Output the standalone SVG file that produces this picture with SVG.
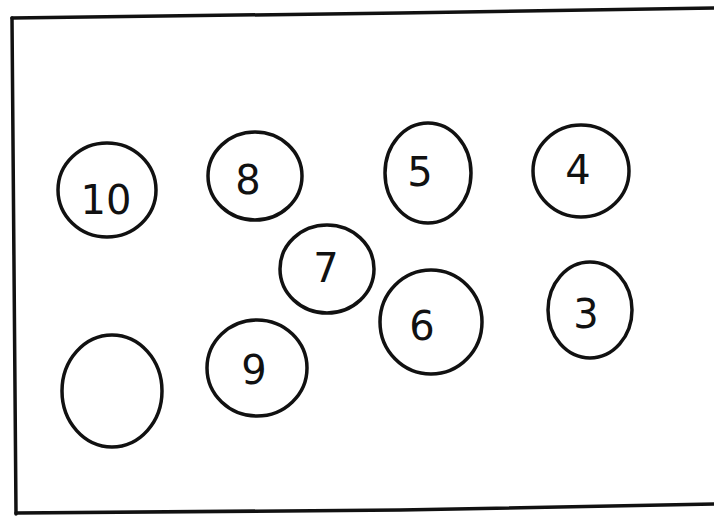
<svg xmlns="http://www.w3.org/2000/svg" width="714" height="518" viewBox="0 0 714 518">
<style>
.n{fill:none;stroke:#111;stroke-width:3.5}
.f{fill:none;stroke:#111;stroke-width:3.5;stroke-linecap:round}
.t{font-family:"DejaVu Sans","Liberation Sans",sans-serif;font-size:40px;fill:#111;text-anchor:middle;dominant-baseline:central}
</style>
<rect width="714" height="518" fill="#fff"/>
<g id="frame">
<path class="f" d="M12 18 L400 13 L714 8"/>
<path class="f" d="M12 18 L16 514"/>
<path class="f" d="M16 513 L400 510 L714 504"/>
</g>
<g id="connectors"></g>
<g id="n10"><ellipse class="n" cx="107" cy="190" rx="49" ry="47"/><text class="t" x="106" y="200">10</text></g>
<g id="n8"><ellipse class="n" cx="255" cy="176" rx="47" ry="44"/><text class="t" x="248" y="180">8</text></g>
<g id="n5"><ellipse class="n" cx="428" cy="173" rx="43" ry="50"/><text class="t" x="420" y="172">5</text></g>
<g id="n4"><ellipse class="n" cx="581" cy="171" rx="48" ry="46"/><text class="t" x="578" y="170">4</text></g>
<g id="n7"><ellipse class="n" cx="327" cy="269" rx="47" ry="44"/><text class="t" x="326" y="268">7</text></g>
<g id="n6"><ellipse class="n" cx="431" cy="322" rx="51" ry="52"/><text class="t" x="422" y="326">6</text></g>
<g id="n3"><ellipse class="n" cx="590" cy="310" rx="42" ry="48"/><text class="t" x="586" y="314">3</text></g>
<g id="n9"><ellipse class="n" cx="257" cy="368" rx="50" ry="48"/><text class="t" x="254" y="370">9</text></g>
<g id="n0"><ellipse class="n" cx="112" cy="391" rx="50" ry="56"/></g>
</svg>
